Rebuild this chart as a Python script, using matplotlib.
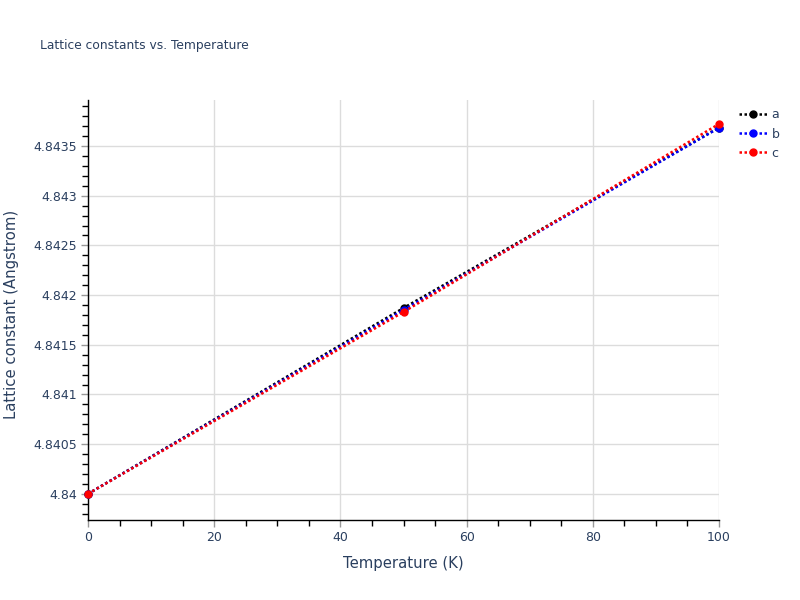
import numpy as np
import matplotlib.pyplot as plt
from matplotlib.ticker import MultipleLocator
from matplotlib.lines import Line2D

plt.rcParams['font.family'] = ['DejaVu Sans']

temperature = [0, 50, 100]
lat_a = [4.84, 4.84187, 4.843685]
lat_b = [4.84, 4.84185, 4.843683]
lat_c = [4.84, 4.84183, 4.843722]

series_names = ["a", "b", "c"]
series_colors = ["black", "blue", "red"]

fig = plt.figure(figsize=(8, 6), dpi=100)
ax = fig.add_axes([88 / 800, 80 / 600, 631 / 800, 420 / 600])

dots = (0, (1, 1))
for vals, name, col in zip([lat_a, lat_b, lat_c], series_names, series_colors):
    ax.plot(temperature, vals, color=col, linestyle=dots, linewidth=1.8,
            marker="o", markersize=5, label=name, clip_on=False, zorder=3)

ax.set_xlim(0, 100)
ax.set_ylim(4.8397365, 4.843963)

ax.xaxis.set_major_locator(MultipleLocator(20))
ax.xaxis.set_minor_locator(MultipleLocator(5))
ax.yaxis.set_major_locator(MultipleLocator(0.0005))
ax.yaxis.set_minor_locator(MultipleLocator(0.0001))


def yfmt(v, pos):
    s = f"{v:.4f}".rstrip("0").rstrip(".")
    return s


ax.yaxis.set_major_formatter(plt.FuncFormatter(yfmt))

label_col = "#2a3f5f"
ax.grid(True, which="major", color="#dcdcdc", linewidth=1, zorder=0)
ax.set_axisbelow(True)
for side in ["top", "right"]:
    ax.spines[side].set_visible(False)
for side in ["left", "bottom"]:
    ax.spines[side].set_color("black")
    ax.spines[side].set_linewidth(1)

ax.tick_params(which="major", direction="out", length=5, width=1, color="#999999",
               labelcolor=label_col, labelsize=9, pad=3)
ax.tick_params(which="minor", direction="out", length=4, width=1, color="black")

# axis titles placed by pixel offsets from the axes box
ax.set_xlabel("Temperature (K)", fontsize=10.7, color=label_col)
ax.xaxis.set_label_coords(0.5, -(556 - 520) / 420, transform=ax.transAxes)
ax.set_ylabel("Lattice constant (Angstrom)", fontsize=10.7, color=label_col)
ax.yaxis.set_label_coords(-(88 - 19) / 631, 0.5 - 4 / 420, transform=ax.transAxes)

fig.text(40 / 800, 1 - 46 / 600, "Lattice constants vs. Temperature", fontsize=8.8,
         color=label_col, va="center", ha="left")

handles = [Line2D([0], [0], color=c, linestyle=dots, linewidth=1.8, marker="o",
                  markersize=5) for c in series_colors]
fig.legend(handles, series_names, loc="upper left", bbox_to_anchor=(728 / 800, 1 - 97 / 600),
           frameon=False, fontsize=9, handlelength=2.2, labelspacing=0.5,
           handletextpad=0.4, labelcolor=label_col)

fig.savefig("out.png", dpi=100)
